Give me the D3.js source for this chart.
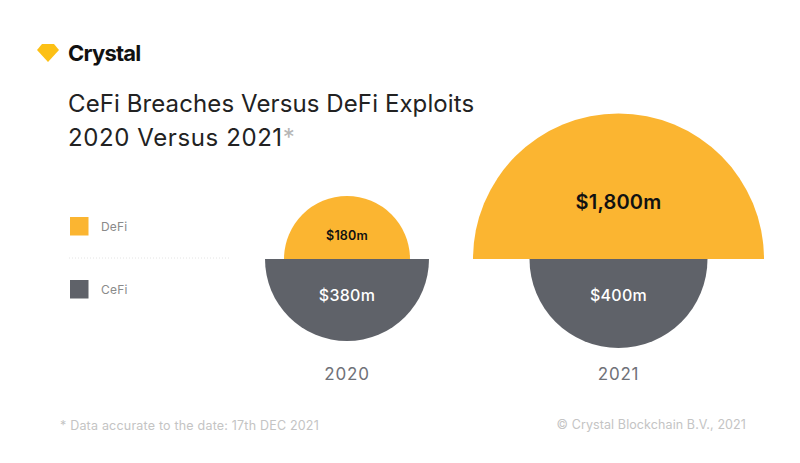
<!DOCTYPE html>
<html>
<head>
<meta charset="utf-8">
<script src="https://cdn.jsdelivr.net/npm/d3@7"></script>
<style>
    html, body { margin: 0; padding: 0; background: #fff; }
    svg { display: block; }
    text { font-family: Inter, "Noto Sans", sans-serif; }
</style>
</head>
<body>
<div id="chart"></div>
<script>
const years = ['2020', '2021'];
const defiValues = [180, 1800];
const cefiValues = [380, 400];
const defiLabels = ['$180m', '$1,800m'];
const cefiLabels = ['$380m', '$400m'];
const legendNames = ['DeFi', 'CeFi'];

const width = 800;
const height = 463;
const baseline = 259;
const colors = { DeFi: '#fbb531', CeFi: '#5f6269' };

const svg = d3.select('#chart').append('svg')
    .attr('width', width)
    .attr('height', height);

// Logo
svg.append('path')
    .attr('d', 'M42 44 H54 L59 50 L48 62 L37 50 Z')
    .attr('fill', '#fcc015');
svg.append('text')
    .attr('x', 68).attr('y', 61)
    .attr('font-size', 22).attr('font-weight', 700)
    .attr('letter-spacing', -0.8)
    .attr('fill', '#111')
    .text('Crystal');

// Title
svg.append('text')
    .attr('x', 68).attr('y', 112)
    .attr('font-size', 24).attr('font-weight', 400)
    .attr('letter-spacing', 0.1)
    .attr('fill', '#222')
    .text('CeFi Breaches Versus DeFi Exploits');
const sub = svg.append('text')
    .attr('x', 68).attr('y', 146)
    .attr('font-size', 24)
    .attr('letter-spacing', 0.6)
    .attr('fill', '#222')
    .text('2020 Versus 2021');
sub.append('tspan').attr('fill', '#b5b5b5').text('*');

// Scales - the semicircles are not on one strict area scale, so use the read-off radii as stops
const x = d3.scalePoint()
    .domain(years)
    .range([347, 618.5]);

const r = d3.scaleLinear()
    .domain([180, 380, 400, 1800])
    .range([63, 82, 89, 145.5]);

const arc = d3.arc().innerRadius(0);

// Semicircles
const groups = svg.selectAll('.year')
    .data(years)
    .join('g')
    .attr('class', 'year')
    .attr('transform', d => `translate(${x(d)},${baseline})`);

groups.append('path')
    .attr('fill', colors.DeFi)
    .attr('d', (d, i) => arc({
        outerRadius: r(defiValues[i]),
        startAngle: -Math.PI / 2,
        endAngle: Math.PI / 2
    }));

groups.append('path')
    .attr('fill', colors.CeFi)
    .attr('d', (d, i) => arc({
        outerRadius: r(cefiValues[i]),
        startAngle: Math.PI / 2,
        endAngle: Math.PI * 1.5
    }));

// Value labels
groups.append('text')
    .attr('text-anchor', 'middle')
    .attr('y', (d, i) => i === 0 ? -19 : -50)
    .attr('font-size', (d, i) => i === 0 ? 12.5 : 20)
    .attr('font-weight', 600)
    .attr('letter-spacing', 0.2)
    .attr('fill', '#111')
    .text((d, i) => defiLabels[i]);

groups.append('text')
    .attr('text-anchor', 'middle')
    .attr('y', 42)
    .attr('font-size', 16)
    .attr('font-weight', 500)
    .attr('letter-spacing', 0.3)
    .attr('fill', '#fff')
    .text((d, i) => cefiLabels[i]);

// Year labels
groups.append('text')
    .attr('text-anchor', 'middle')
    .attr('y', 121)
    .attr('font-size', 17)
    .attr('letter-spacing', 0.8)
    .attr('fill', '#6f7178')
    .text(d => d);

// Legend
const legendY = d3.scalePoint()
    .domain(legendNames)
    .range([217, 280]);

const legend = svg.selectAll('.legend')
    .data(legendNames)
    .join('g')
    .attr('class', 'legend')
    .attr('transform', d => `translate(70,${legendY(d)})`);

legend.append('rect')
    .attr('width', 18.5).attr('height', 18.5)
    .attr('fill', d => colors[d]);

legend.append('text')
    .attr('x', 31).attr('y', 14)
    .attr('font-size', 12)
    .attr('letter-spacing', 0.2)
    .attr('fill', '#8a8a8a')
    .text(d => d);

svg.append('line')
    .attr('x1', 69).attr('x2', 231)
    .attr('y1', 258).attr('y2', 258)
    .attr('stroke', '#e4e4e4')
    .attr('stroke-width', 1)
    .attr('stroke-dasharray', '1 2');

// Footer
svg.append('text')
    .attr('x', 60).attr('y', 430)
    .attr('font-size', 12.5)
    .attr('letter-spacing', 0.2)
    .attr('fill', '#c4c4c4')
    .text('* Data accurate to the date: 17th DEC 2021');

svg.append('text')
    .attr('x', 746).attr('y', 429)
    .attr('text-anchor', 'end')
    .attr('font-size', 12.5)
    .attr('letter-spacing', 0.1)
    .attr('fill', '#c4c4c4')
    .text('© Crystal Blockchain B.V., 2021');
</script>
</body>
</html>
